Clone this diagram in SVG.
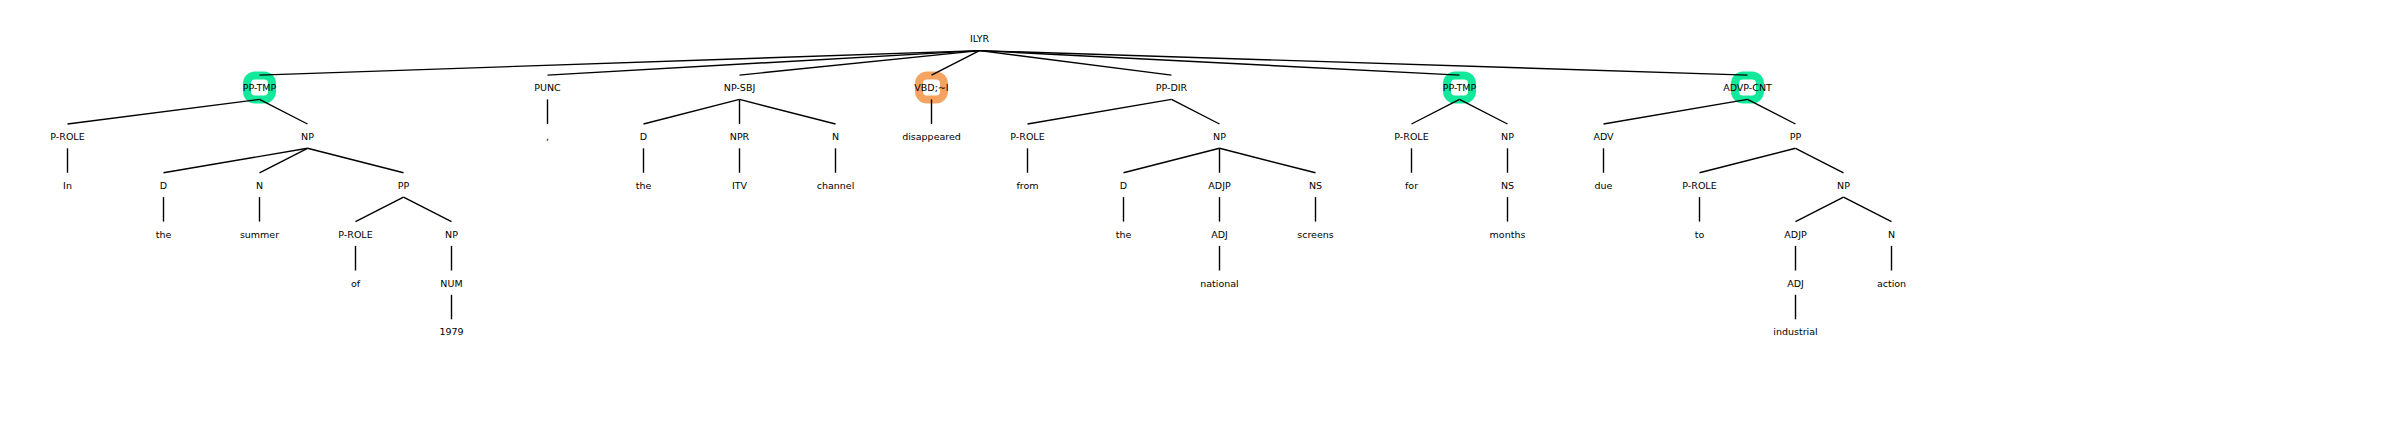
<svg xmlns="http://www.w3.org/2000/svg" width="2400" height="427" viewBox="0 0 2400 427">
<style>
text{font-family:"DejaVu Sans","Liberation Sans",sans-serif;font-size:9.5px;fill:#000;text-anchor:middle}
.c line{stroke:#000;stroke-width:1.4;stroke-linecap:butt}
.hl{fill:none;stroke-width:8}
.g{stroke:#12E899}
.o{stroke:#F4A460}
</style>
<rect width="2400" height="427" fill="#fff"/>
<g id="highlights">
<rect class="hl g" x="247" y="75.5" width="25" height="24" rx="8"/>
<rect class="hl o" x="919" y="75.5" width="25" height="24" rx="8"/>
<rect class="hl g" x="1447" y="75.5" width="25" height="24" rx="8"/>
<rect class="hl g" x="1735" y="75.5" width="25" height="24" rx="8"/>
</g>
<g id="connectors" class="c">
<line x1="979.5" y1="50.6" x2="259.5" y2="75.1"/>
<line x1="979.5" y1="50.6" x2="547.5" y2="75.1"/>
<line x1="979.5" y1="50.6" x2="739.5" y2="75.1"/>
<line x1="979.5" y1="50.6" x2="931.5" y2="75.1"/>
<line x1="979.5" y1="50.6" x2="1171.5" y2="75.1"/>
<line x1="979.5" y1="50.6" x2="1459.5" y2="75.1"/>
<line x1="979.5" y1="50.6" x2="1747.5" y2="75.1"/>
<line x1="259.5" y1="99.4" x2="67.5" y2="124"/>
<line x1="259.5" y1="99.4" x2="307.5" y2="124"/>
<line x1="547.5" y1="99.4" x2="547.5" y2="124"/>
<line x1="739.5" y1="99.4" x2="643.5" y2="124"/>
<line x1="739.5" y1="99.4" x2="739.5" y2="124"/>
<line x1="739.5" y1="99.4" x2="835.5" y2="124"/>
<line x1="931.5" y1="99.4" x2="931.5" y2="124"/>
<line x1="1171.5" y1="99.4" x2="1027.5" y2="124"/>
<line x1="1171.5" y1="99.4" x2="1219.5" y2="124"/>
<line x1="1459.5" y1="99.4" x2="1411.5" y2="124"/>
<line x1="1459.5" y1="99.4" x2="1507.5" y2="124"/>
<line x1="1747.5" y1="99.4" x2="1603.5" y2="124"/>
<line x1="1747.5" y1="99.4" x2="1795.5" y2="124"/>
<line x1="67.5" y1="148.3" x2="67.5" y2="172.8"/>
<line x1="307.5" y1="148.3" x2="163.5" y2="172.8"/>
<line x1="307.5" y1="148.3" x2="259.5" y2="172.8"/>
<line x1="307.5" y1="148.3" x2="403.5" y2="172.8"/>
<line x1="643.5" y1="148.3" x2="643.5" y2="172.8"/>
<line x1="739.5" y1="148.3" x2="739.5" y2="172.8"/>
<line x1="835.5" y1="148.3" x2="835.5" y2="172.8"/>
<line x1="1027.5" y1="148.3" x2="1027.5" y2="172.8"/>
<line x1="1219.5" y1="148.3" x2="1123.5" y2="172.8"/>
<line x1="1219.5" y1="148.3" x2="1219.5" y2="172.8"/>
<line x1="1219.5" y1="148.3" x2="1315.5" y2="172.8"/>
<line x1="1411.5" y1="148.3" x2="1411.5" y2="172.8"/>
<line x1="1507.5" y1="148.3" x2="1507.5" y2="172.8"/>
<line x1="1603.5" y1="148.3" x2="1603.5" y2="172.8"/>
<line x1="1795.5" y1="148.3" x2="1699.5" y2="172.8"/>
<line x1="1795.5" y1="148.3" x2="1843.5" y2="172.8"/>
<line x1="163.5" y1="197.1" x2="163.5" y2="221.6"/>
<line x1="259.5" y1="197.1" x2="259.5" y2="221.6"/>
<line x1="403.5" y1="197.1" x2="355.5" y2="221.6"/>
<line x1="403.5" y1="197.1" x2="451.5" y2="221.6"/>
<line x1="1123.5" y1="197.1" x2="1123.5" y2="221.6"/>
<line x1="1219.5" y1="197.1" x2="1219.5" y2="221.6"/>
<line x1="1315.5" y1="197.1" x2="1315.5" y2="221.6"/>
<line x1="1507.5" y1="197.1" x2="1507.5" y2="221.6"/>
<line x1="1699.5" y1="197.1" x2="1699.5" y2="221.6"/>
<line x1="1843.5" y1="197.1" x2="1795.5" y2="221.6"/>
<line x1="1843.5" y1="197.1" x2="1891.5" y2="221.6"/>
<line x1="355.5" y1="245.9" x2="355.5" y2="270.5"/>
<line x1="451.5" y1="245.9" x2="451.5" y2="270.5"/>
<line x1="1219.5" y1="245.9" x2="1219.5" y2="270.5"/>
<line x1="1795.5" y1="245.9" x2="1795.5" y2="270.5"/>
<line x1="1891.5" y1="245.9" x2="1891.5" y2="270.5"/>
<line x1="451.5" y1="294.8" x2="451.5" y2="319.3"/>
<line x1="1795.5" y1="294.8" x2="1795.5" y2="319.3"/>
</g>
<g id="n0"><text x="979.5" y="42.4">ILYR</text></g>
<g id="n1"><text x="259.5" y="91.2">PP-TMP</text></g>
<g id="n2"><text x="547.5" y="91.2">PUNC</text></g>
<g id="n3"><text x="739.5" y="91.2">NP-SBJ</text></g>
<g id="n4"><text x="931.5" y="91.2">VBD;~I</text></g>
<g id="n5"><text x="1171.5" y="91.2">PP-DIR</text></g>
<g id="n6"><text x="1459.5" y="91.2">PP-TMP</text></g>
<g id="n7"><text x="1747.5" y="91.2">ADVP-CNT</text></g>
<g id="n8"><text x="67.5" y="140.1">P-ROLE</text></g>
<g id="n9"><text x="307.5" y="140.1">NP</text></g>
<g id="n10"><text x="547.5" y="140.1">,</text></g>
<g id="n11"><text x="643.5" y="140.1">D</text></g>
<g id="n12"><text x="739.5" y="140.1">NPR</text></g>
<g id="n13"><text x="835.5" y="140.1">N</text></g>
<g id="n14"><text x="931.5" y="140.1">disappeared</text></g>
<g id="n15"><text x="1027.5" y="140.1">P-ROLE</text></g>
<g id="n16"><text x="1219.5" y="140.1">NP</text></g>
<g id="n17"><text x="1411.5" y="140.1">P-ROLE</text></g>
<g id="n18"><text x="1507.5" y="140.1">NP</text></g>
<g id="n19"><text x="1603.5" y="140.1">ADV</text></g>
<g id="n20"><text x="1795.5" y="140.1">PP</text></g>
<g id="n21"><text x="67.5" y="188.9">In</text></g>
<g id="n22"><text x="163.5" y="188.9">D</text></g>
<g id="n23"><text x="259.5" y="188.9">N</text></g>
<g id="n24"><text x="403.5" y="188.9">PP</text></g>
<g id="n25"><text x="643.5" y="188.9">the</text></g>
<g id="n26"><text x="739.5" y="188.9">ITV</text></g>
<g id="n27"><text x="835.5" y="188.9">channel</text></g>
<g id="n28"><text x="1027.5" y="188.9">from</text></g>
<g id="n29"><text x="1123.5" y="188.9">D</text></g>
<g id="n30"><text x="1219.5" y="188.9">ADJP</text></g>
<g id="n31"><text x="1315.5" y="188.9">NS</text></g>
<g id="n32"><text x="1411.5" y="188.9">for</text></g>
<g id="n33"><text x="1507.5" y="188.9">NS</text></g>
<g id="n34"><text x="1603.5" y="188.9">due</text></g>
<g id="n35"><text x="1699.5" y="188.9">P-ROLE</text></g>
<g id="n36"><text x="1843.5" y="188.9">NP</text></g>
<g id="n37"><text x="163.5" y="237.7">the</text></g>
<g id="n38"><text x="259.5" y="237.7">summer</text></g>
<g id="n39"><text x="355.5" y="237.7">P-ROLE</text></g>
<g id="n40"><text x="451.5" y="237.7">NP</text></g>
<g id="n41"><text x="1123.5" y="237.7">the</text></g>
<g id="n42"><text x="1219.5" y="237.7">ADJ</text></g>
<g id="n43"><text x="1315.5" y="237.7">screens</text></g>
<g id="n44"><text x="1507.5" y="237.7">months</text></g>
<g id="n45"><text x="1699.5" y="237.7">to</text></g>
<g id="n46"><text x="1795.5" y="237.7">ADJP</text></g>
<g id="n47"><text x="1891.5" y="237.7">N</text></g>
<g id="n48"><text x="355.5" y="286.6">of</text></g>
<g id="n49"><text x="451.5" y="286.6">NUM</text></g>
<g id="n50"><text x="1219.5" y="286.6">national</text></g>
<g id="n51"><text x="1795.5" y="286.6">ADJ</text></g>
<g id="n52"><text x="1891.5" y="286.6">action</text></g>
<g id="n53"><text x="451.5" y="335.4">1979</text></g>
<g id="n54"><text x="1795.5" y="335.4">industrial</text></g>
</svg>
